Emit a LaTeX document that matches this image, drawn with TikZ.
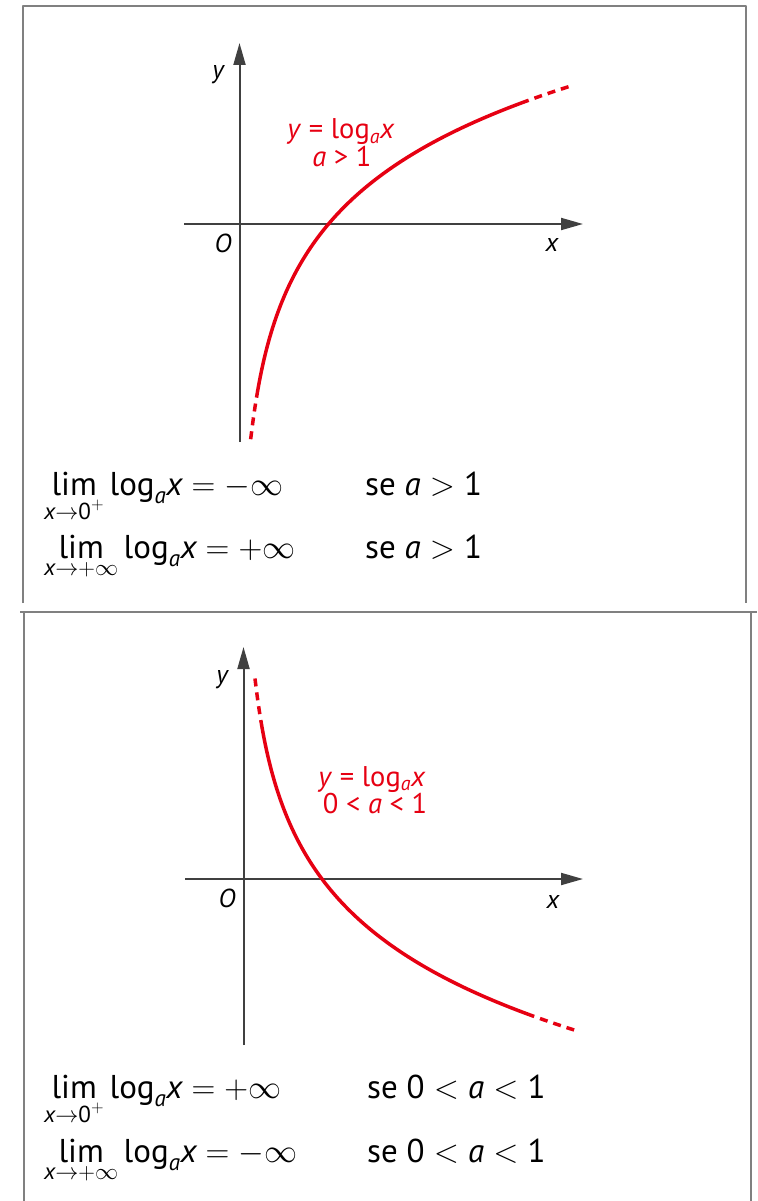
\RequirePackage{fix-cm}
\documentclass[tikz,border=0pt]{standalone}
\usepackage{amsmath}
\usepackage{fontspec}
\setmainfont{PT Sans}
\usetikzlibrary{arrows.meta}
\definecolor{logred}{RGB}{230,0,18}
\begin{document}
\begin{tikzpicture}[x=1pt, y=-1pt, >={Triangle[length=22pt,width=12pt]}, line join=round, smooth, samples=150,
	declare function={c=105; ox=239.5; oy=224; ux=89; px=243.5; py=879; vx=78.5;},
	axis/.style={draw=black!75, line width=2pt},
	frame/.style={draw=black!50, line width=2.5pt},
	graph/.style={draw=logred, line width=3.5pt},
	dots/.style={graph, line cap=butt, dash pattern=on 8pt off 6pt, dash phase=8pt},
	lab/.style={text=logred, font=\fontsize{28.5}{32}\selectfont, anchor=base, inner sep=0pt},
	txt/.style={font=\fontsize{33}{38}\selectfont, anchor=base west, inner sep=0pt},
	axlab/.style={font=\fontsize{26}{30}\selectfont\itshape, inner sep=0pt}]
	\useasboundingbox (0,0) rectangle (757,1201);
	\draw[frame] (23,603) -- (23,6) -- (746,6) -- (746,603);
	\draw[frame] (24,1201) -- (24,612) (20,612) -- (757,612) (751,612) -- (751,1201);
	
	\draw[axis,->] (184,oy)--(583,oy);
	\draw[axis,->] (ox,442)--(ox,43);
	\node[axlab] (y1) at (218,75) {y};
	\node[axlab] (o1) at (223,243) {O};
	\node[axlab] (x1) at (552,245) {x};
	\draw[graph] plot[domain=0.191:3.25] ({ox+ux*\x},{oy-c*ln(\x)});
	\draw[dots] plot[domain=0.191:0.125] ({ox+ux*\x},{oy-c*ln(\x)});
	\draw[dots] plot[domain=3.25:3.72] ({ox+ux*\x},{oy-c*ln(\x)});
	\node[lab] (f1) at (341,139) {\textit{y} = log\textsubscript{\textit{a}}\textit{x}};
	\node[lab] (b1) at (342,167) {\textit{a} > 1};
	\node[txt] (lim1) at (44,495) {$\mathop{\text{lim}}\limits_{\textit{x}\to\text{0}^{+}}\text{log}_{\textit{a}}\textit{x}=-\infty$};
	\node[txt] (se1) at (365,495) {se $\textit{a}>\text{1}$};
	\node[txt] (lim2) at (44,558) {$\mathop{\text{lim}}\limits_{\textit{x}\to+\infty}\text{log}_{\textit{a}}\textit{x}=+\infty$};
	\node[txt] (se2) at (365,558) {se $\textit{a}>\text{1}$};
	
	\draw[axis,->] (185,py)--(583,py);
	\draw[axis,->] (px,1045)--(px,647);
	\node[axlab] (y2) at (222,680) {y};
	\node[axlab] (o2) at (227,898) {O};
	\node[axlab] (x2) at (553,902) {x};
	\draw[graph] plot[domain=0.22:3.705] ({px+vx*\x},{py+c*ln(\x)});
	\draw[dots] plot[domain=0.22:0.146] ({px+vx*\x},{py+c*ln(\x)});
	\draw[dots] plot[domain=3.705:4.22] ({px+vx*\x},{py+c*ln(\x)});
	\node[lab] (f2) at (372,786) {\textit{y} = log\textsubscript{\textit{a}}\textit{x}};
	\node[lab] (b2) at (375,813) {0 < \textit{a} < 1};
	\node[txt] (lim3) at (44,1098) {$\mathop{\text{lim}}\limits_{\textit{x}\to\text{0}^{+}}\text{log}_{\textit{a}}\textit{x}=+\infty$};
	\node[txt] (se3) at (367,1098) {se $\text{0}<\textit{a}<\text{1}$};
	\node[txt] (lim4) at (44,1162) {$\mathop{\text{lim}}\limits_{\textit{x}\to+\infty}\text{log}_{\textit{a}}\textit{x}=-\infty$};
	\node[txt] (se4) at (367,1162) {se $\text{0}<\textit{a}<\text{1}$};
\end{tikzpicture}
\end{document}
